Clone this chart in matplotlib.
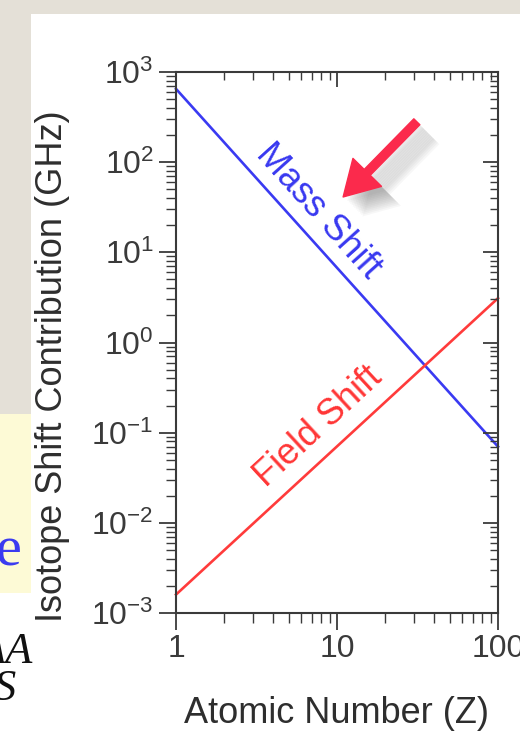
import matplotlib
matplotlib.use('Agg')
import matplotlib.pyplot as plt
from matplotlib.patches import Rectangle
from matplotlib import patheffects as pe
from matplotlib.ticker import NullFormatter

# values (both curves are straight lines on log-log axes)
atomic_number = [1, 100]
mass_shift = [650, 0.07]      # GHz
field_shift = [0.0016, 3.1]   # GHz

x_ticks = [1, 10, 100]
x_tick_labels = ['1', '10', '100']
y_ticks = [1e-3, 1e-2, 1e-1, 1e0, 1e1, 1e2, 1e3]
y_tick_labels = ['10$^{-3}$', '10$^{-2}$', '10$^{-1}$', '10$^{0}$',
                 '10$^{1}$', '10$^{2}$', '10$^{3}$']

plt.rcParams['font.family'] = ['Liberation Sans', 'DejaVu Sans']
plt.rcParams['mathtext.default'] = 'regular'

W, H = 520, 737
fig = plt.figure(figsize=(W / 100, H / 100), dpi=100)
fig.patch.set_facecolor('#e4e0d7')


def fx(px):
    return px / W


def fy(py):
    return 1 - py / H


# slide background pieces
fig.add_artist(Rectangle((fx(31), 0), 1, fy(14), transform=fig.transFigure,
                         facecolor='white', edgecolor='none', zorder=-2))
fig.add_artist(Rectangle((0, 0), fx(31), fy(593), transform=fig.transFigure,
                         facecolor='white', edgecolor='none', zorder=-2))
fig.add_artist(Rectangle((0, fy(593)), fx(31), (593 - 414) / H,
                         transform=fig.transFigure,
                         facecolor='#fdfad6', edgecolor='none', zorder=-2))

# bits of slide text cut off at the left edge
fig.text(fx(22), fy(566), 'e', color='#3b3bf0', fontsize=42,
         family='Liberation Serif', ha='right', va='baseline')
fig.text(fx(33), fy(663), 'AA', color='#111111', fontsize=32,
         family='Liberation Serif', style='italic', ha='right', va='baseline')
fig.text(fx(16), fy(700), 'S', color='#111111', fontsize=32,
         family='Liberation Serif', style='italic', ha='right', va='baseline')

# main axes
ax = fig.add_axes([fx(176), fy(613), (498 - 176) / W, (613 - 72) / H])
ax.set_xscale('log')
ax.set_yscale('log')

ax.plot(atomic_number, mass_shift, color='#3a3af2', lw=1.9, clip_on=False)
ax.plot(atomic_number, field_shift, color='#ff3b3b', lw=1.9, clip_on=False)

ax.set_xlim(1, 100)
ax.set_ylim(1e-3, 1e3)
ax.set_xticks(x_ticks, x_tick_labels)
ax.set_yticks(y_ticks, y_tick_labels)
ax.xaxis.set_minor_formatter(NullFormatter())
ax.yaxis.set_minor_formatter(NullFormatter())

ax.tick_params(which='major', direction='out', length=12, width=1.3,
               color='#3a3a3a', labelsize=23, labelcolor='#3a3a3a', pad=4)
ax.tick_params(which='minor', direction='out', length=7, width=1.0,
               color='#3a3a3a')
ax.tick_params(axis='x', which='major', pad=3)
for sp in ax.spines.values():
    sp.set_color('#3a3a3a')
    sp.set_linewidth(1.5)

# inward ticks on top and right
axr = ax.twinx()
axr.set_yscale('log')
axr.set_ylim(1e-3, 1e3)
axr.set_yticks(y_ticks)
axr.yaxis.set_minor_formatter(NullFormatter())
axr.tick_params(which='major', direction='in', length=11, width=1.3,
                color='#3a3a3a', labelright=False)
axr.tick_params(which='minor', direction='in', length=6, width=1.0,
                color='#3a3a3a')
axt = ax.twiny()
axt.set_xscale('log')
axt.set_xlim(1, 100)
axt.set_xticks(x_ticks)
axt.xaxis.set_minor_formatter(NullFormatter())
axt.tick_params(which='major', direction='in', length=11, width=1.3,
                color='#3a3a3a', labeltop=False)
axt.tick_params(which='minor', direction='in', length=6, width=1.0,
                color='#3a3a3a')
for a in (axr, axt):
    for sp in a.spines.values():
        sp.set_visible(False)

ax.set_xlabel('Atomic Number (Z)', fontsize=26, color='#2e2e2e')
ax.xaxis.set_label_coords(0.5, -0.153)
ax.set_ylabel('Isotope Shift Contribution (GHz)', fontsize=26, color='#2e2e2e')
ax.yaxis.set_label_coords(-0.328, 0.457)

# curve labels
ax.text(0.441, 0.743, 'Mass Shift', transform=ax.transAxes, color='#3838f0',
        fontsize=26, rotation=-48, rotation_mode='anchor',
        ha='center', va='center')
ax.text(0.441, 0.344, 'Field Shift', transform=ax.transAxes, color='#ff3535',
        fontsize=26, rotation=42.7, rotation_mode='anchor',
        ha='center', va='center')

# red pointer arrow with a soft shadow built from stacked faint copies
shadow = [pe.SimplePatchShadow(offset=(o, -o), shadow_rgbFace='#505050',
                               alpha=0.045, linewidth=0)
          for o in range(3, 15)]
ax.annotate('', xy=(0.519, 0.769), xytext=(0.748, 0.908),
            xycoords='axes fraction', textcoords='axes fraction',
            arrowprops=dict(arrowstyle='simple,head_width=1.8,head_length=1.55,tail_width=0.38',
                            mutation_scale=16, color='#fb2a4c',
                            shrinkA=0, shrinkB=0,
                            path_effects=shadow + [pe.Normal()]))

fig.savefig('out.png', dpi=100, facecolor=fig.get_facecolor())
